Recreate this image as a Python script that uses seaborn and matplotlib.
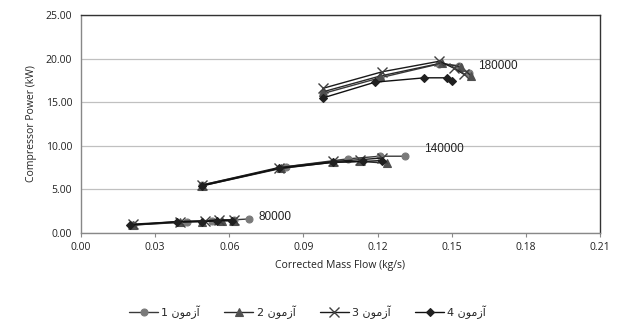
import matplotlib
matplotlib.use("Agg")
import matplotlib.pyplot as plt
import seaborn as sns
import pandas as pd
from matplotlib.lines import Line2D
from matplotlib.ticker import FormatStrFormatter, MultipleLocator

# ---- data ----
speeds = ["80000", "140000", "180000"]

t1_x = [[0.021, 0.043, 0.053, 0.062, 0.068],
        [0.049, 0.083, 0.108, 0.121, 0.131],
        [0.098, 0.121, 0.145, 0.153, 0.157]]
t1_y = [[0.9, 1.3, 1.4, 1.5, 1.6],
        [5.5, 7.6, 8.5, 8.8, 8.8],
        [16.0, 17.8, 19.4, 19.2, 18.3]]

t2_x = [[0.021, 0.040, 0.049, 0.057, 0.062],
        [0.049, 0.081, 0.102, 0.113, 0.124],
        [0.098, 0.121, 0.146, 0.154, 0.158]]
t2_y = [[0.9, 1.2, 1.3, 1.4, 1.4],
        [5.4, 7.4, 8.1, 8.2, 8.0],
        [16.2, 18.0, 19.5, 19.0, 18.0]]

t3_x = [[0.021, 0.040, 0.050, 0.056, 0.062],
        [0.049, 0.080, 0.102, 0.113, 0.122],
        [0.098, 0.122, 0.145, 0.151, 0.155]]
t3_y = [[1.0, 1.3, 1.4, 1.5, 1.5],
        [5.5, 7.5, 8.2, 8.4, 8.6],
        [16.6, 18.5, 19.7, 18.9, 18.2]]

t4_x = [[0.020, 0.039, 0.049, 0.055, 0.061],
        [0.049, 0.080, 0.102, 0.114, 0.122],
        [0.098, 0.119, 0.139, 0.148, 0.150]]
t4_y = [[0.9, 1.3, 1.3, 1.4, 1.4],
        [5.4, 7.4, 8.1, 8.2, 8.3],
        [15.5, 17.3, 17.8, 17.8, 17.4]]

label_x = [0.072, 0.139, 0.1607]
label_y = [1.8, 9.6, 19.1]

# visual-order, presentation-form Arabic for "آزمون"
word = "\uFEE5\uFEEE\uFEE3\uFEAF\uFE81"
test_names = [f"{i} {word}" for i in range(1, 5)]

rows = []
for t, (xs, ys) in enumerate([(t1_x, t1_y), (t2_x, t2_y), (t3_x, t3_y), (t4_x, t4_y)]):
    for s, (xx, yy) in enumerate(zip(xs, ys)):
        for a, b in zip(xx, yy):
            rows.append({"test": t, "speed": speeds[s], "x": a, "y": b})
df = pd.DataFrame(rows)

sns.set_style("white")
plt.rcParams['font.family'] = ['Open Sans', 'DejaVu Sans']

fig = plt.figure(figsize=(6.19, 3.28), dpi=100)
ax = fig.add_axes([0.131, 0.290, 0.838, 0.664])

styles = [
    dict(marker="o", color="#7a7a7a", ms=5, mew=0.8, lc="#3a3a3a"),
    dict(marker="^", color="#505050", ms=6, mew=0.8, lc="#2a2a2a"),
    dict(marker="x", color="#404040", ms=7, mew=1.0, lc="#1a1a1a"),
    dict(marker="D", color="#202020", ms=4.5, mew=0.8, lc="#101010"),
]

for t in range(4):
    st = styles[t]
    for sp in speeds:
        d = df[(df.test == t) & (df.speed == sp)]
        sns.lineplot(data=d, x="x", y="y", sort=False, ax=ax, color=st["lc"],
                     linewidth=1.0, marker=st["marker"], markersize=st["ms"],
                     markeredgewidth=st["mew"], markerfacecolor=st["color"],
                     markeredgecolor=st["color"], estimator=None, legend=False)

for sp, lx, ly in zip(speeds, label_x, label_y):
    ax.text(lx, ly, sp, fontsize=8.5, color="#222222", va="center", ha="left",
            family=['Liberation Sans'])

ax.set_xlim(0, 0.21)
ax.set_ylim(0, 25)
ax.xaxis.set_major_locator(MultipleLocator(0.03))
ax.yaxis.set_major_locator(MultipleLocator(5))
ax.xaxis.set_major_formatter(FormatStrFormatter("%.2f"))
ax.yaxis.set_major_formatter(FormatStrFormatter("%.2f"))
ax.grid(axis="y", color="#c0c0c0", linewidth=0.9)
ax.grid(axis="x", visible=False)
for side in ["top", "right", "left", "bottom"]:
    ax.spines[side].set_visible(True)
    ax.spines[side].set_color("#333333")
    ax.spines[side].set_linewidth(1.0)
ax.spines["left"].set_color("#888888")
ax.spines["bottom"].set_color("#888888")
ax.tick_params(axis="both", labelsize=7.5, colors="#222222", length=3,
               direction="out", bottom=True, left=False)
ax.tick_params(axis="x", color="#888888")
ax.set_xlabel("Corrected Mass Flow (kg/s)", fontsize=7.5, color="#222222", labelpad=5)
ax.set_ylabel("Compressor Power (kW)", fontsize=7.5, color="#222222", labelpad=6)

handles = [Line2D([0], [0], color=st["lc"], linewidth=1.0, marker=st["marker"],
                  markersize=st["ms"], markerfacecolor=st["color"],
                  markeredgecolor=st["color"], markeredgewidth=st["mew"])
           for st in styles]
leg = fig.legend(handles, test_names, loc="center", bbox_to_anchor=(0.497, 0.048),
                 ncol=4, frameon=False, handlelength=2.6,
                 columnspacing=2.2, handletextpad=0.3,
                 prop={'family': ['DejaVu Sans'], 'size': 8})

fig.savefig("out.png", dpi=100, facecolor="white")
